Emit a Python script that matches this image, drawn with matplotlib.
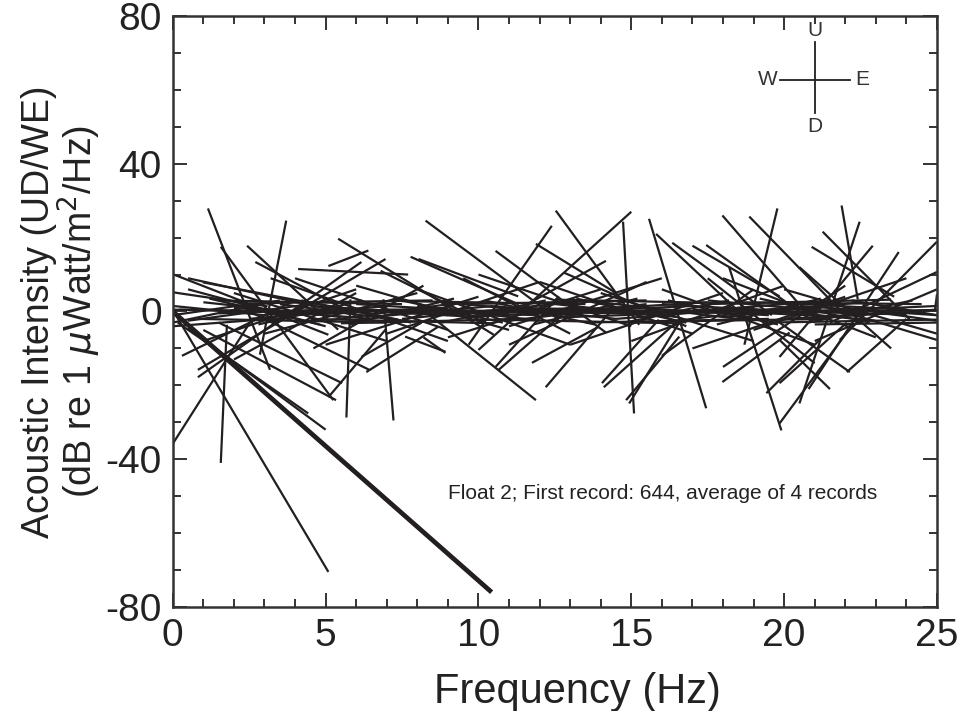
import matplotlib
matplotlib.use("Agg")
import matplotlib.pyplot as plt
from matplotlib.ticker import MultipleLocator

plt.rcParams['font.family'] = ['Liberation Sans', 'DejaVu Sans']
plt.rcParams['axes.unicode_minus'] = False

# intensity vectors drawn as sticks: (f0, dB0, f1, dB1)
thick_line = (0.0, 0.0, 10.43, -76.0)

spikes_left = [
    (0.03, 0.0, 5.09, -70.5), (0.0, -35.8, 2.6, -2.0), (1.57, -41.0, 1.77, -3.6),
    (1.15, 27.9, 3.18, -15.8), (3.71, 24.6, 2.85, -11.7), (1.57, 17.5, 5.25, -24.0),
    (2.43, 17.8, 5.41, -4.9), (0.0, 10.1, 5.09, -6.3), (0.98, 7.9, 7.38, -2.2),
    (0.16, -3.0, 4.43, -27.6), (0.5, -4.5, 5.0, -32.0), (1.0, -5.0, 5.34, -24.0),
    (1.5, -3.0, 5.54, -19.4), (2.5, 0.0, 6.43, -15.8), (0.82, -17.8, 6.17, 13.4),
    (0.82, -15.8, 6.96, 14.2), (5.41, 19.7, 10.5, -6.3), (8.27, 24.6, 12.63, -2.2),
    (7.78, 14.8, 11.32, 1.9), (5.68, -28.7, 5.81, 3.3), (7.22, -29.5, 6.89, 3.3),
    (0.0, 5.2, 3.1, 1.4), (0.5, 9.0, 6.0, -1.0), (2.7, 13.4, 6.0, -1.0),
    (4.1, 11.5, 7.7, 10.0), (6.33, -16.4, 8.69, -4.1), (5.09, -23.2, 6.96, -4.9),
    (7.6, -6.8, 8.92, -10.9), (6.17, -12.3, 8.14, -3.0), (5.09, 12.3, 6.4, 16.5),
    (0.3, -12.0, 4.0, 3.0), (2.0, -13.0, 6.0, 5.0), (3.2, 9.0, 9.0, -8.0),
    (4.6, -10.0, 8.2, 7.0), (6.8, 11.0, 10.2, -3.0),
]

spikes_mid = [
    (12.53, 27.3, 15.26, -3.6), (15.0, 27.0, 10.0, -10.4), (14.73, 24.3, 15.09, -27.6),
    (12.4, 23.2, 9.68, -9.0), (10.56, 16.4, 14.17, -5.7), (8.04, 14.2, 11.3, 4.1),
    (8.04, 1.4, 11.88, -24.0), (12.2, -20.5, 14.37, 0.5), (14.1, -20.5, 16.57, -2.2),
    (10.66, -15.8, 13.3, 3.3), (11.75, -13.9, 13.94, -4.1), (10.56, -15.0, 12.63, 4.1),
    (14.04, -19.4, 15.9, -2.2), (14.83, -24.0, 16.57, -6.8), (8.2, -7.0, 8.92, -11.2),
    (14.17, 13.7, 11.6, 2.0), (11.88, 18.3, 14.5, 5.0), (9.5, 9.0, 13.0, -6.0),
    (11.0, -9.0, 15.5, 8.0), (12.8, 10.5, 16.8, -4.0),
]

spikes_right = [
    (15.58, 25.1, 17.45, -26.2), (17.98, 26.0, 20.5, 1.9), (18.86, 25.7, 21.82, 0.5),
    (19.78, 27.9, 18.7, -9.0), (15.81, 21.0, 18.9, -3.0), (16.34, 18.6, 19.6, -1.0),
    (17.45, 18.0, 21.0, -3.0), (14.93, -24.9, 16.57, -3.0), (17.98, -19.1, 20.18, -5.7),
    (19.42, -22.1, 21.16, -7.7), (19.85, -30.3, 22.05, -5.7), (18.2, 12.0, 19.91, -32.2),
    (21.88, 28.7, 22.41, 3.3), (22.47, 24.3, 20.5, -24.9), (21.26, 21.6, 24.11, -2.2),
    (22.9, 17.8, 19.85, -12.3), (20.9, 17.5, 23.6, 4.0), (23.75, 16.1, 20.8, -21.0),
    (25.0, 18.9, 21.82, -7.7), (25.0, 10.7, 21.5, -3.0), (22.3, -1.0, 25.0, -7.7),
    (24.93, 0.0, 25.0, 4.6), (22.05, -16.4, 24.0, -2.0), (19.85, -19.4, 22.05, -3.0),
    (19.85, -3.0, 22.15, -16.4), (19.85, -7.7, 21.5, -21.0), (17.0, 17.8, 19.85, 4.1),
    (16.0, -12.0, 19.0, 6.0), (17.5, 9.0, 21.0, -14.0), (18.0, -15.0, 22.0, 7.0),
    (20.5, 12.0, 23.5, -10.0),
]

band = [
    (0.0, 1.5, 3.0, -1.0), (0.0, -1.0, 2.5, 2.0), (0.2, 0.5, 4.0, 0.0), (0.5, -2.5, 4.5, 2.0),
    (1.0, 2.5, 5.5, -1.5), (1.5, -0.5, 6.0, 0.8), (2.0, 1.0, 6.5, -2.0), (2.5, -2.0, 7.0, 1.5),
    (3.0, 0.0, 8.0, 0.5), (3.5, 2.0, 7.5, -2.5), (4.0, -1.0, 9.0, 1.0), (4.5, 1.5, 8.5, -0.5),
    (5.0, -2.5, 9.5, 2.5), (5.5, 0.5, 10.0, -1.5), (6.0, 2.0, 11.0, -0.5), (6.5, -1.5, 10.5, 1.5),
    (7.0, 0.5, 12.0, 0.0), (7.5, -2.0, 12.5, 2.0), (8.0, 1.5, 12.0, -2.5), (8.5, -0.5, 13.5, 1.0),
    (9.0, 2.5, 13.0, -1.0), (9.5, -1.5, 14.5, 0.5), (10.0, 0.0, 15.0, -0.5), (10.5, 1.5, 14.5, -2.0),
    (11.0, -2.5, 15.5, 2.0), (11.5, 1.0, 16.0, -0.5), (12.0, -0.5, 17.0, 1.5), (12.5, 2.0, 16.5, -1.5),
    (13.0, -1.5, 18.0, 0.0), (13.5, 0.5, 17.5, 2.5), (14.0, 2.5, 18.5, -2.0), (14.5, -2.0, 19.0, 1.0),
    (15.0, 1.0, 19.5, -1.0), (15.5, -1.0, 20.0, 2.0), (16.0, 2.0, 21.0, -0.5), (16.5, -2.5, 20.5, 1.5),
    (17.0, 0.5, 22.0, -1.5), (17.5, 3.0, 21.5, 0.0), (18.0, -1.5, 22.5, 2.5), (18.5, 1.0, 23.0, -2.5),
    (19.0, -0.5, 23.5, 1.0), (19.5, 2.5, 24.0, 0.5), (20.0, -2.0, 24.5, 0.0), (20.5, 1.5, 25.0, -1.0),
    (21.0, 0.0, 25.0, 1.5), (21.5, -1.5, 25.0, 0.5), (22.0, 1.0, 25.0, -2.5),
    (0.0, -3.0, 3.5, 3.0), (1.2, 3.5, 4.8, -3.5), (2.8, -3.5, 6.2, 3.0), (4.2, 3.0, 7.8, -3.0),
    (5.8, -3.5, 9.2, 3.5), (7.2, 3.5, 10.8, -3.0), (8.8, -3.0, 12.2, 3.0), (10.2, 3.0, 13.8, -3.5),
    (11.8, -3.5, 15.2, 3.5), (13.2, 3.5, 16.8, -3.0), (14.8, -3.0, 18.2, 3.0), (16.2, 3.0, 19.8, -3.5),
    (17.8, -3.5, 21.2, 3.5), (19.2, 3.5, 22.8, -3.0), (20.8, -3.0, 24.2, 3.0), (22.2, 3.0, 25.0, -1.0),
    (0.0, 0.5, 6.0, -0.5), (3.0, -0.8, 9.0, 0.8), (6.0, 0.3, 12.0, -1.0), (9.0, -0.3, 15.0, 0.6),
    (12.0, 0.8, 18.0, -0.4), (15.0, -0.6, 21.0, 0.9), (18.0, 0.4, 24.0, -0.8), (20.0, -0.2, 25.0, 0.4),
    (0.8, -2.0, 7.0, -3.0), (2.5, 2.2, 8.5, 3.0), (5.5, -3.2, 11.5, -2.0), (7.5, 2.8, 13.5, 2.0),
    (10.5, -2.2, 16.5, -3.2), (12.5, 3.2, 18.5, 2.2), (15.5, -2.8, 21.5, -2.0), (17.5, 2.0, 23.5, 3.2),
    (19.5, -3.0, 25.0, -2.2), (1.5, 3.0, 7.5, 2.0), (4.5, -2.0, 10.5, -3.2), (9.5, 2.0, 15.5, 3.0),
    (13.5, -3.0, 19.5, -2.0), (18.5, 2.5, 24.5, 2.0), (0.0, -4.0, 4.0, -1.5), (21.0, -3.5, 25.0, -3.0),
    (0.5, 6.0, 5.0, -4.0), (3.0, -6.0, 8.0, 5.0), (6.0, 7.0, 11.0, -5.0), (9.0, -7.0, 14.0, 6.0),
    (12.0, 8.0, 17.0, -6.0), (15.0, -8.0, 20.0, 7.0), (18.0, 9.0, 23.0, -7.0), (21.0, -8.0, 25.0, 6.0),
    (1.0, -8.0, 6.0, 6.0), (4.0, 9.0, 9.0, -5.0), (7.0, -6.0, 12.0, 8.0), (10.0, 10.0, 15.0, -4.0),
    (13.0, -9.0, 18.0, 5.0), (16.0, 6.0, 21.0, -9.0), (19.0, -5.0, 24.0, 9.0), (2.0, 5.0, 7.0, -8.0),
    (5.0, -9.0, 10.0, 4.0), (8.0, 6.0, 13.0, -9.0), (11.0, -4.0, 16.0, 9.0), (14.0, 5.0, 19.0, -8.0),
    (17.0, -10.0, 22.0, 4.0), (20.0, 6.0, 25.0, -6.0),
]

line_color = '#231f20'

fig = plt.figure(figsize=(9.6, 7.11), dpi=100)
ax = fig.add_axes([0.180, 0.1463, 0.796, 0.8312])

for seg in band + spikes_left + spikes_mid + spikes_right:
    ax.plot([seg[0], seg[2]], [seg[1], seg[3]], color=line_color, lw=1.6,
            solid_capstyle='butt')
ax.plot([thick_line[0], thick_line[2]], [thick_line[1], thick_line[3]],
        color=line_color, lw=3.4, solid_capstyle='butt')

# compass
ax.plot([21.0, 21.0], [53.8, 72.9], color=line_color, lw=1.3)
ax.plot([19.85, 22.15], [62.8, 62.8], color=line_color, lw=1.3)
compass_kw = dict(fontsize=15, color='#333333', ha='center', va='center')
ax.text(21.0, 76.0, 'U', **compass_kw)
ax.text(21.0, 50.2, 'D', **compass_kw)
ax.text(19.45, 62.8, 'W', **compass_kw)
ax.text(22.55, 62.8, 'E', **compass_kw)

ax.text(9.0, -49.2, 'Float 2; First record: 644, average of 4 records',
        fontsize=15, color='#222222', ha='left', va='center')

ax.set_xlim(0, 25)
ax.set_ylim(-80, 80)
ax.xaxis.set_major_locator(MultipleLocator(5))
ax.xaxis.set_minor_locator(MultipleLocator(1))
ax.yaxis.set_major_locator(MultipleLocator(40))
ax.yaxis.set_minor_locator(MultipleLocator(10))
ax.tick_params(which='both', direction='in', top=True, right=True,
               color='#333333', width=1.4)
ax.tick_params(which='major', length=10, labelsize=28, pad=8, labelcolor='#222222')
ax.tick_params(which='minor', length=6)
for sp in ax.spines.values():
    sp.set_linewidth(1.8)
    sp.set_color('#333333')

ax.set_xlabel('Frequency (Hz)', fontsize=30, color='#222222')
ax.xaxis.set_label_coords(0.53, -0.11)
ax.set_ylabel('Acoustic Intensity (UD/WE)\n(dB re 1 $\\mu$Watt/m$^2$/Hz)',
              fontsize=27, color='#222222', labelpad=2, linespacing=0.95)

fig.savefig('out.png', dpi=100, facecolor='white')
